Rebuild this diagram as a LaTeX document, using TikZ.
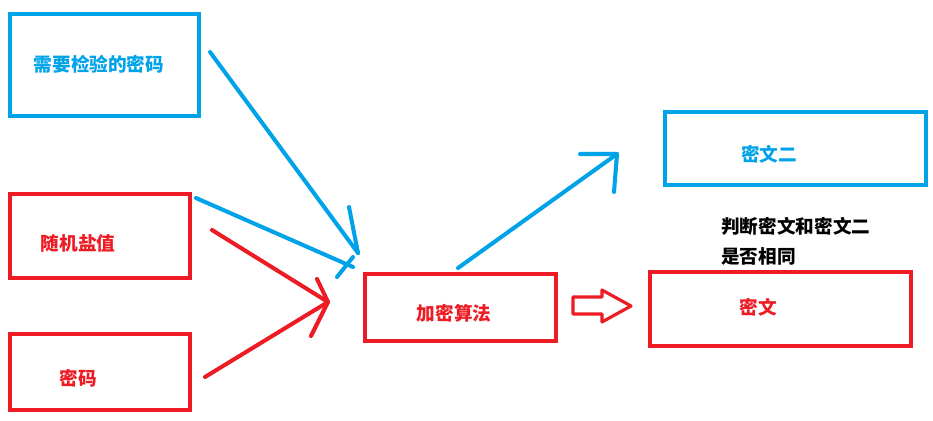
\documentclass[tikz,border=0pt]{standalone}
\usepackage{fontspec}
\newfontfamily\cjk{Noto Sans CJK SC}
\usepackage{tikz}
\usetikzlibrary{positioning}
\definecolor{pblue}{RGB}{0,162,232}
\definecolor{pred}{RGB}{237,28,36}

\begin{document}
\begin{tikzpicture}[x=0.02cm, y=-0.02cm,
	box/.style={draw, line width=2.3pt, rectangle, inner sep=0pt},
	txt/.style={font=\cjk\bfseries\fontsize{10.6}{12}\selectfont, inner sep=0pt},
	stroke/.style={line width=2.3pt, line cap=round, line join=round}]
	\useasboundingbox (0,0) rectangle (933,420);

	% boxes
	\foreach \name/\x/\y/\w/\h/\col in {
		chk/104.5/65/3.78/2.04/pblue,
		salt/100/236/3.6/1.68/pred,
		pwd/100/372/3.6/1.52/pred,
		alg/460.5/307.5/3.82/1.34/pred,
		ctwo/795.5/148.5/5.22/1.46/pblue,
		cone/780.5/309/5.22/1.48/pred}
	{
		\node [box, draw=\col, minimum width=\w cm, minimum height=\h cm] (\name) at (\x,\y) {};
	}

	% labels
	\node [txt, text=pblue] (chktxt) at (99,64) {需要检验的密码};
	\node [txt, text=pred] (salttxt) at (78,243) {随机盐值};
	\node [txt, text=pred] (pwdtxt) at (78,378) {密码};
	\node [txt, text=pred] (algtxt) at (454,313) {加密算法};
	\node [txt, text=pblue] (ctwotxt) at (769,154) {密文二};
	\node [txt, text=pred] (conetxt) at (758,307) {密文};
	\node [txt, anchor=west] (ask1) at (721,226) {判断密文和密文二};
	\node [txt, anchor=west] (ask2) at (721,256) {是否相同};

	% hand drawn arrows
	\coordinate (c1) at (210,52);
	\coordinate (t1) at (358,253);
	\coordinate (c2) at (196,198);
	\coordinate (t2) at (353,267);
	\coordinate (c3) at (212,230);
	\coordinate (c4) at (205,377);
	\coordinate (t3) at (328,302);
	\coordinate (c5) at (458,268);
	\coordinate (t5) at (617,154);

	\draw [stroke, pblue] (c1) -- (t1);
	\draw [stroke, pblue] (349,207) -- (t1);
	\draw [stroke, pblue] (353,257) -- (337,277);
	\draw [stroke, pblue] (c2) -- (t2);

	\draw [stroke, pred] (c3) -- (t3);
	\draw [stroke, pred] (c4) -- (t3);
	\draw [stroke, pred] (317,279) -- (t3) -- (311,336);

	\draw [stroke, pblue] (c5) -- (t5);
	\draw [stroke, pblue] (580,154) -- (t5) -- (614,192);

	% hollow arrow
	\draw [pred, line width=1.8pt, line join=round]
		(573,297) -- (602,297) -- (602,290) -- (631,306) -- (602,322) -- (602,314) -- (573,314) -- cycle;
\end{tikzpicture}
\end{document}
